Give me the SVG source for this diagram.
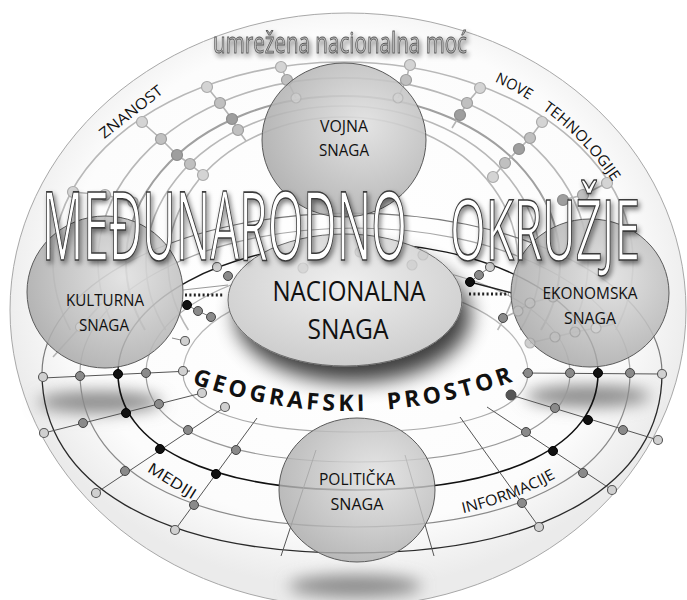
<svg xmlns="http://www.w3.org/2000/svg" width="687" height="600" viewBox="0 0 687 600">
<defs>
<radialGradient id="bg" cx="50%" cy="45%" r="52%">
<stop offset="0" stop-color="#ffffff"/>
<stop offset="0.8" stop-color="#fcfcfc"/>
<stop offset="1" stop-color="#ebebeb"/>
</radialGradient>
<radialGradient id="cg" cx="62%" cy="40%" r="65%">
<stop offset="0" stop-color="#e0e0e0"/>
<stop offset="1" stop-color="#ababab"/>
</radialGradient>
<radialGradient id="ngr" cx="50%" cy="38%" r="62%">
<stop offset="0" stop-color="#efefef"/>
<stop offset="1" stop-color="#cdcdcd"/>
</radialGradient>
<filter id="blur8" x="-50%" y="-100%" width="200%" height="300%"><feGaussianBlur stdDeviation="8"/></filter>
<filter id="sh" x="-30%" y="-30%" width="170%" height="190%">
<feGaussianBlur in="SourceAlpha" stdDeviation="10"/>
<feOffset dx="8" dy="16"/>
<feComponentTransfer><feFuncA type="linear" slope="0.75"/></feComponentTransfer>
<feMerge><feMergeNode/><feMergeNode in="SourceGraphic"/></feMerge>
</filter>
<filter id="tsh" x="-10%" y="-20%" width="125%" height="150%">
<feGaussianBlur in="SourceAlpha" stdDeviation="2.5"/>
<feOffset dx="2" dy="3"/>
<feComponentTransfer><feFuncA type="linear" slope="0.5"/></feComponentTransfer>
<feMerge><feMergeNode/><feMergeNode in="SourceGraphic"/></feMerge>
</filter>
<path id="geo" d="M188,382 Q355,442 522,378"/>
<path id="nt" d="M490,79.6 A279,279 0 0 1 630,212.2"/>
<path id="inf" d="M460,514 Q515,502 566,472"/>
</defs>
<style>
.lbl{font-family:"Open Sans","Liberation Sans",sans-serif;fill:#111;text-anchor:middle}
.big{font-family:"Open Sans","Liberation Sans",sans-serif;fill:#ffffff;stroke:#3a3a3a;stroke-width:1.6}
.ua{fill:none;stroke:#b8b8b8;stroke-width:1.6}
.uad{fill:none;stroke:#a0a0a0;stroke-width:2}
.uc{fill:none;stroke:#b4b4b4;stroke-width:1.6}
.nu{fill:#d4d4d4;stroke:#ababab;stroke-width:1.2}
.num{fill:#c0c0c0;stroke:#9e9e9e;stroke-width:1.2}
.nud{fill:#9e9e9e;stroke:#8c8c8c;stroke-width:1.2}
.rad{fill:none;stroke:#555;stroke-width:1}
.nl{fill:#d0d0d0;stroke:#555;stroke-width:1.1}
.ng{fill:#8a8a8a;stroke:#444;stroke-width:1}
.nb{fill:#111;stroke:#000;stroke-width:1}
.circ{fill:url(#cg);stroke:#5a5a5a;stroke-width:1;fill-opacity:0.88}
</style>

<ellipse cx="348" cy="310" rx="338" ry="297" fill="url(#bg)" stroke="#a8a8a8" stroke-width="1"/>

<g id="shadows" fill="#8a8a8a">
<ellipse cx="100" cy="402" rx="62" ry="11" filter="url(#blur8)"/>
<ellipse cx="588" cy="396" rx="62" ry="11" filter="url(#blur8)"/>
<ellipse cx="355" cy="586" rx="66" ry="11" filter="url(#blur8)"/>
</g>

<g id="connectors">
<path class="ua" d="M70.3,330 A290,200 0 1 1 615.7,330"/>
<path class="ua" d="M115.4,330 A245,184 0 1 1 570.6,330"/>
<path class="uad" d="M145,330 A217,166 0 1 1 541,330"/>
<path class="ua" d="M165.7,330 A197,156 0 1 1 520.3,330"/>
<path class="ua" d="M188.4,330 A175,145 0 1 1 497.6,330"/>
<polyline class="uc" points="73,192 105,195 133,202"/>
<polyline class="uc" points="142,122 161,139 177,155 190,164 203,175"/>
<polyline class="uc" points="207,87 220,103 232,119 238,130 246,141"/>
<polyline class="uc" points="281,67 287,80 296,98"/>
<polyline class="uc" points="410,65 406,80 398,98"/>
<polyline class="uc" points="480,88 467,103 460,115 452,128"/>
<polyline class="uc" points="542,122 530,138 519,149 505,163 493,177"/>
<polyline class="uc" points="607,183 583,195 563,200"/>
<polyline class="uc" points="553,297 530,303 518,311 503,318"/>
<polyline class="uc" points="530,343 555,337 575,332 596,328 614,324"/>
<line class="uc" x1="53" y1="357" x2="102" y2="303"/>

<path fill="none" stroke="#7a7a7a" stroke-width="1.2" d="M42,373 A310,160 0 0 1 662,373"/>
<path fill="none" stroke="#a8a8a8" stroke-width="1.2" d="M80,373 A275,145 0 0 1 630,373"/>
<path fill="none" stroke="#1a1a1a" stroke-width="1.4" d="M118,373 A240,130 0 0 1 598,373"/>
<path fill="none" stroke="#b0b0b0" stroke-width="1.2" d="M146,373 A212,110 0 0 1 570,373"/>
<path fill="none" stroke="#b8b8b8" stroke-width="1.2" d="M183,373 A172.5,90 0 0 1 528,373"/>
<path fill="none" stroke="#2a2a2a" stroke-width="1.3" d="M42,373 C42,484.6 159.8,553 352,553 S662,484.6 662,373"/>
<path fill="none" stroke="#8a8a8a" stroke-width="1.2" d="M80,373 C80,468.5 184.5,527 355,527 S630,468.5 630,373"/>
<path fill="none" stroke="#111" stroke-width="1.6" d="M118,373 C118,445.5 209.2,490 358,490 S598,445.5 598,373"/>
<path fill="none" stroke="#999" stroke-width="1.2" d="M146,373 C146,428 226.6,462 358,462 S570,428 570,373"/>
<path fill="none" stroke="#aaa" stroke-width="1.2" d="M183,373 C183,409.6 248.5,432 355.5,432 S528,409.6 528,373"/>
<line class="rad" x1="43" y1="378" x2="190" y2="371"/>
<line class="rad" x1="44" y1="433" x2="202" y2="393"/>
<line class="rad" x1="96" y1="493" x2="225" y2="407"/>
<line class="rad" x1="175" y1="530" x2="257" y2="418"/>
<line class="rad" x1="281" y1="556" x2="316" y2="450" stroke="#777"/>
<line class="rad" x1="522" y1="373" x2="662" y2="374"/>
<line class="rad" x1="511" y1="395" x2="658" y2="440"/>
<line class="rad" x1="487" y1="407" x2="612" y2="490"/>
<line class="rad" x1="460" y1="417" x2="539" y2="527"/>
<line class="rad" x1="405" y1="455" x2="434" y2="556" stroke="#777"/>
<line x1="185" y1="295" x2="224" y2="295" stroke="#222" stroke-width="3" stroke-dasharray="2,2.4"/>
<line x1="469" y1="294" x2="509" y2="294" stroke="#222" stroke-width="3" stroke-dasharray="2,2.4"/>
<line x1="183" y1="290" x2="228" y2="285" stroke="#999" stroke-width="1"/>
<polyline fill="none" stroke="#777" stroke-width="1" points="187,305 198,311 211,317"/>
<line x1="172" y1="338" x2="185" y2="341" stroke="#888" stroke-width="1"/>
<polyline fill="none" stroke="#777" stroke-width="1" points="490,267 479,275 470,282"/>
<line x1="470" y1="282" x2="512" y2="293" stroke="#222" stroke-width="1.3"/>
</g>

<g id="upper-nodes">
<circle class="nu" cx="73" cy="192" r="5.5"/><circle class="nu" cx="105" cy="195" r="5.5"/><circle class="nu" cx="133" cy="202" r="5"/>
<circle class="nu" cx="142" cy="122" r="5.5"/><circle class="num" cx="161" cy="139" r="5.5"/><circle class="nud" cx="177" cy="155" r="5.5"/><circle class="num" cx="190" cy="164" r="5.5"/><circle class="nu" cx="203" cy="175" r="5.5"/>
<circle class="nu" cx="207" cy="87" r="5.5"/><circle class="num" cx="220" cy="103" r="5.5"/><circle class="nud" cx="232" cy="119" r="5.5"/><circle class="num" cx="238" cy="130" r="5.5"/>
<circle class="nu" cx="281" cy="67" r="5.5"/><circle class="num" cx="287" cy="80" r="5.5"/>
<circle class="nu" cx="410" cy="65" r="5.5"/><circle class="num" cx="406" cy="80" r="5.5"/>
<circle class="nu" cx="480" cy="88" r="5.5"/><circle class="num" cx="467" cy="103" r="5.5"/><circle class="nud" cx="460" cy="115" r="5.5"/>
<circle class="nu" cx="542" cy="122" r="5.5"/><circle class="num" cx="530" cy="138" r="5.5"/><circle class="nud" cx="519" cy="149" r="5.5"/><circle class="num" cx="505" cy="163" r="5.5"/><circle class="nu" cx="493" cy="177" r="5.5"/>
<circle class="nu" cx="607" cy="183" r="5.5"/><circle class="num" cx="583" cy="195" r="5.5"/><circle class="nud" cx="563" cy="200" r="5.5"/>
</g>

<g id="lower-nodes">
<circle class="nl" cx="43" cy="377" r="4.5"/><circle class="ng" cx="80" cy="376" r="4.5"/><circle class="nb" cx="118" cy="374" r="4.5"/><circle class="ng" cx="146" cy="373" r="4.5"/><circle class="nl" cx="183" cy="371" r="4.5"/>
<circle class="nl" cx="44" cy="433" r="4.5"/><circle class="ng" cx="83" cy="423" r="4.5"/><circle class="nb" cx="126" cy="413" r="4.5"/><circle class="ng" cx="159" cy="404" r="4.5"/><circle class="nl" cx="202" cy="393" r="4.5"/>
<circle class="nl" cx="96" cy="493" r="4.5"/><circle class="ng" cx="125" cy="471" r="4.5"/><circle class="nb" cx="160" cy="449" r="4.5"/><circle class="ng" cx="188" cy="430" r="4.5"/><circle class="nl" cx="225" cy="407" r="4.5"/>
<circle class="nl" cx="175" cy="530" r="4.5"/><circle class="ng" cx="194" cy="505" r="4.5"/><circle class="nb" cx="216" cy="474" r="4.5"/><circle class="ng" cx="236" cy="450" r="4.5"/>
<circle class="ng" cx="528" cy="373" r="4.5"/><circle class="ng" cx="570" cy="373" r="4.5"/><circle class="nb" cx="598" cy="373" r="4.5"/><circle class="ng" cx="630" cy="373" r="4.5"/><circle class="nl" cx="662" cy="374" r="4.5"/>
<circle class="ng" cx="511" cy="395" r="5" style="fill:#555"/><circle class="ng" cx="555" cy="408" r="4.5"/><circle class="nb" cx="588" cy="420" r="4.5"/><circle class="ng" cx="623" cy="430" r="4.5"/><circle class="nl" cx="658" cy="440" r="4.5"/>
<circle class="ng" cx="526" cy="432" r="4.5"/><circle class="nb" cx="553" cy="451" r="4.5"/><circle class="ng" cx="583" cy="473" r="4.5"/><circle class="nl" cx="612" cy="490" r="4.5"/>
<circle class="ng" cx="522" cy="503" r="4.5"/><circle class="nl" cx="539" cy="527" r="4.5"/>
<circle class="nl" cx="217" cy="267" r="4.5"/><circle class="ng" cx="228" cy="276" r="4.5"/>
<circle class="nb" cx="187" cy="305" r="4.5"/><circle class="ng" cx="198" cy="311" r="4.5"/><circle class="ng" cx="211" cy="317" r="4.5"/><circle class="nl" cx="185" cy="341" r="4.5"/>
<circle class="nl" cx="490" cy="267" r="4.5"/><circle class="ng" cx="479" cy="275" r="4.5"/><circle class="nb" cx="470" cy="282" r="4.5"/>
<circle class="ng" cx="503" cy="318" r="4.5"/>
</g>

<g id="kulturna">
<ellipse class="circ" cx="105" cy="292" rx="78" ry="76"/>
<circle class="nu" cx="80" cy="327" r="4.5" opacity="0.7"/>
<text class="lbl" x="105" y="306" font-size="16.5" textLength="78" lengthAdjust="spacingAndGlyphs">KULTURNA</text>
<text class="lbl" x="104" y="331" font-size="16.5" textLength="50" lengthAdjust="spacingAndGlyphs">SNAGA</text>
</g>

<g id="ekonomska">
<ellipse class="circ" cx="590" cy="293" rx="79" ry="74"/>
<g opacity="0.75">
<circle class="num" cx="553" cy="297" r="5"/><circle class="num" cx="530" cy="303" r="5"/><circle class="num" cx="518" cy="311" r="5"/>
<circle class="num" cx="530" cy="343" r="5"/><circle class="num" cx="555" cy="337" r="5"/><circle class="num" cx="575" cy="332" r="5"/><circle class="nu" cx="596" cy="328" r="5"/>
</g>
<text class="lbl" x="590" y="299" font-size="16.5" textLength="95" lengthAdjust="spacingAndGlyphs">EKONOMSKA</text>
<text class="lbl" x="590" y="324" font-size="16.5" textLength="52" lengthAdjust="spacingAndGlyphs">SNAGA</text>
</g>

<g id="vojna">
<ellipse class="circ" cx="344" cy="140" rx="82" ry="77"/>
<circle class="nu" cx="296" cy="98" r="5" opacity="0.6"/><circle class="nu" cx="398" cy="98" r="5" opacity="0.6"/>
<text class="lbl" x="344" y="132" font-size="15.5" textLength="48" lengthAdjust="spacingAndGlyphs">VOJNA</text>
<text class="lbl" x="344" y="156" font-size="15.5" textLength="50" lengthAdjust="spacingAndGlyphs">SNAGA</text>
</g>

<g id="nacionalna">
<ellipse cx="345" cy="300" rx="117" ry="66" fill="url(#ngr)" stroke="#6a6a6a" stroke-width="1" filter="url(#sh)"/>
<g opacity="0.35">
<circle class="num" cx="303" cy="268" r="5"/><circle class="num" cx="360" cy="252" r="5"/><circle class="num" cx="412" cy="265" r="5"/><circle class="num" cx="423" cy="255" r="5"/>
</g>
<text class="lbl" x="349" y="301" font-size="27" textLength="153" lengthAdjust="spacingAndGlyphs">NACIONALNA</text>
<text class="lbl" x="348" y="339" font-size="27" textLength="81" lengthAdjust="spacingAndGlyphs">SNAGA</text>
</g>

<g id="politicka">
<ellipse class="circ" cx="357" cy="490" rx="78" ry="72" style="fill-opacity:0.82"/>
<text class="lbl" x="357" y="485" font-size="17" textLength="76" lengthAdjust="spacingAndGlyphs">POLITIČKA</text>
<text class="lbl" x="357" y="510" font-size="17" textLength="53" lengthAdjust="spacingAndGlyphs">SNAGA</text>
</g>

<g id="labels">
<text x="340" y="53" font-family="'Open Sans','Liberation Sans',sans-serif" font-size="30" text-anchor="middle" textLength="254" lengthAdjust="spacingAndGlyphs" fill="#bcbcbc" stroke="#5a5a5a" stroke-width="0.9" filter="url(#tsh)">umrežena nacionalna moć</text>
<text class="lbl" x="131" y="117" font-size="15" textLength="76" lengthAdjust="spacingAndGlyphs" transform="rotate(-38 131 112)">ZNANOST</text>
<text class="lbl" style="text-anchor:start" font-size="15"><textPath href="#nt" startOffset="5" textLength="39" lengthAdjust="spacingAndGlyphs">NOVE</textPath></text>
<text class="lbl" style="text-anchor:start" font-size="15"><textPath href="#nt" startOffset="60" textLength="102" lengthAdjust="spacingAndGlyphs">TEHNOLOGIJE</textPath></text>
<text class="lbl" x="172" y="486" font-size="15" textLength="54" lengthAdjust="spacingAndGlyphs" transform="rotate(32 172 481)">MEDIJI</text>
<text class="lbl" style="text-anchor:start" font-size="15"><textPath href="#inf" startOffset="3" textLength="100" lengthAdjust="spacingAndGlyphs">INFORMACIJE</textPath></text>
<text class="lbl" style="text-anchor:start;word-spacing:10px" font-size="23" font-weight="bold" fill="#1a1a1a"><textPath href="#geo" startOffset="4" textLength="328" lengthAdjust="spacing">GEOGRAFSKI PROSTOR</textPath></text>
</g>

<g id="title" filter="url(#tsh)">
<text class="big" x="42" y="260" font-size="96" textLength="365" lengthAdjust="spacingAndGlyphs">MEĐUNARODNO</text>
<text class="big" x="450" y="260" font-size="85" textLength="190" lengthAdjust="spacingAndGlyphs">OKRUŽJE</text>
</g>
</svg>
